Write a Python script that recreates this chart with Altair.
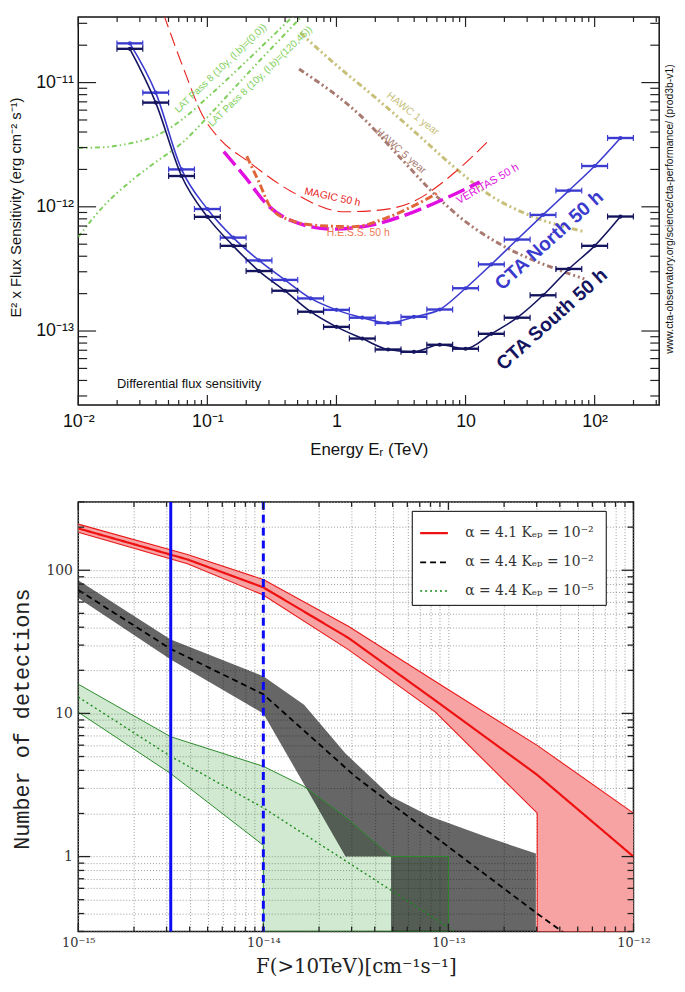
import altair as alt
import pandas as pd

SANS = "Liberation Sans"
SERIF = "DejaVu Serif"
MONO = "Liberation Mono"

# ================= TOP PANEL DATA (E in TeV, E^2 F in erg cm^-2 s^-1) =================
cta_energy = [0.0251, 0.0398, 0.0631, 0.1, 0.1585, 0.2512, 0.3981, 0.631, 1.0, 1.585,
              2.512, 3.981, 6.31, 10.0, 15.85, 25.12, 39.81, 63.1, 100.0, 158.5]
cta_north = [2.07e-11, 8.3e-12, 2.0e-12, 9.6e-13, 5.65e-13, 3.7e-13, 2.58e-13, 1.83e-13,
             1.48e-13, 1.28e-13, 1.16e-13, 1.30e-13, 1.49e-13, 2.21e-13, 3.44e-13, 5.45e-13,
             8.6e-13, 1.35e-12, 2.13e-12, 3.58e-12]
cta_south = [1.87e-11, 6.9e-12, 1.77e-12, 8.3e-13, 4.85e-13, 3.04e-13, 2.11e-13, 1.43e-13,
             1.08e-13, 8.7e-14, 7.1e-14, 6.8e-14, 7.75e-14, 7.2e-14, 9.5e-14, 1.28e-13,
             1.94e-13, 3.16e-13, 4.85e-13, 8.35e-13]
bin_factor = 1.2589  # energy bins are 0.2 decade wide

lat00_e = [0.01, 0.0158, 0.0251, 0.0398, 0.0631, 0.1, 0.158, 0.251, 0.398, 0.48]
lat00_f = [2.98e-12, 3.02e-12, 3.24e-12, 3.72e-12, 5.01e-12, 7.59e-12, 1.175e-11, 1.86e-11, 2.95e-11, 3.56e-11]
lat12045_e = [0.01, 0.0158, 0.0251, 0.0398, 0.0631, 0.1, 0.158, 0.251, 0.398, 0.56]
lat12045_f = [5.71e-13, 1.02e-12, 1.585e-12, 2.29e-12, 3.24e-12, 5.25e-12, 8.81e-12, 1.48e-11, 2.45e-11, 3.56e-11]
magic_e = [0.0458, 0.0684, 0.0912, 0.1225, 0.208, 0.4436, 1.151, 1.995, 3.89, 8.32, 15.49]
magic_f = [3.56e-11, 1.148e-11, 5.50e-12, 3.59e-12, 2.31e-12, 1.334e-12, 9.12e-13, 9.33e-13, 1.096e-12, 1.905e-12, 3.51e-12]
veritas_e = [0.134, 0.1995, 0.282, 0.468, 0.933, 1.995, 3.98, 7.24, 12.88]
veritas_f = [2.78e-12, 1.70e-12, 1.072e-12, 7.59e-13, 6.61e-13, 7.24e-13, 9.12e-13, 1.189e-12, 1.585e-12]
hess_e = [0.2018, 0.2483, 0.3162, 0.4467, 0.7079, 1.349, 2.570, 4.169, 6.310]
hess_f = [2.553e-12, 1.622e-12, 9.55e-13, 7.76e-13, 7.08e-13, 6.92e-13, 8.32e-13, 1.047e-12, 1.318e-12]
hawc1_e = [0.525, 1.0, 1.995, 3.98, 7.94, 15.85, 31.6, 83.2]
hawc1_f = [2.51e-11, 1.38e-11, 7.6e-12, 4.07e-12, 2.14e-12, 1.22e-12, 8.51e-13, 6.31e-13]
hawc5_e = [0.513, 1.585, 3.16, 6.31, 10.0, 19.95, 50.1, 83.2]
hawc5_f = [1.288e-11, 5.25e-12, 2.45e-12, 1.15e-12, 7.59e-13, 4.79e-13, 3.16e-13, 2.63e-13]

# annotation table: text, E, F, angle, colour, size, weight
top_labels = [
    ("LAT Pass 8 (10y, (l,b)=(0,0))", 0.1268, 1.30e-11, 316, "#7fcf5c", 10, "normal"),
    ("LAT Pass 8 (10y, (l,b)=(120,45))", 0.257, 1.122e-11, 316, "#7fcf5c", 10, "normal"),
    ("MAGIC 50 h", 0.931, 1.194e-12, 12, "#e8201c", 10.5, "normal"),
    ("VERITAS 50 h", 14.86, 1.52e-12, 330, "#e010e0", 11, "normal"),
    ("H.E.S.S. 50 h", 1.476, 6.17e-13, 0, "#f07a55", 10.5, "normal"),
    ("HAWC 1 year", 3.9, 5.6e-12, 38, "#c8c07a", 10.5, "normal"),
    ("HAWC 5 year", 3.15, 2.8e-12, 41, "#a87a70", 10.5, "normal"),
    ("CTA North 50 h", 44.5, 5.37e-13, 318, "#3a3acc", 19.5, "bold"),
    ("CTA South 50 h", 46.8, 1.24e-13, 318, "#14145f", 19.5, "bold"),
]
note_text = "Differential flux sensitivity"
note_pos = (0.01995, 3.73e-14)
url_text = "www.cta-observatory.org/science/cta-performance/ (prod3b-v1)"

# ================= BOTTOM PANEL DATA (F(>10 TeV), number of detections) =================
N_FLOOR = 0.3  # "zero" detections (below the axis)
S_RED = "α = 4.1  Kₑₚ = 10⁻²"
S_BLK = "α = 4.4  Kₑₚ = 10⁻²"
S_GRN = "α = 4.4  Kₑₚ = 10⁻⁵"

red_flux = [1e-15, 3.89e-15, 1e-14, 2.88e-14, 8.51e-14, 3.02e-13, 3.02e-13, 1e-12]
red_hi = [210, 129, 86.1, 40.6, 16.7, 5.98, 5.98, 2.01]
red_lo = [184, 111, 67.1, 27.9, 10.2, 2.01, N_FLOOR, N_FLOOR]
red_mid_flux = [1e-15, 3.89e-15, 1e-14, 2.88e-14, 8.51e-14, 3.02e-13, 1e-12]
red_mid = [196, 119, 75.9, 33.7, 12.3, 3.72, 1.0]

blk_flux = [1e-15, 3.16e-15, 1e-14, 1.66e-14, 2.78e-14, 4.9e-14, 4.9e-14, 7.94e-14, 1.585e-13, 2.97e-13, 2.97e-13]
blk_hi = [85.1, 32.8, 18.2, 11.5, 5.25, 2.63, 2.63, 1.91, 1.38, 1.05, N_FLOOR]
blk_lo = [64.0, 23.8, 10.0, 3.2, 1.0, 1.0, N_FLOOR, N_FLOOR, N_FLOOR, N_FLOOR, N_FLOOR]
blk_mid_flux = [1e-15, 3.16e-15, 1e-14, 3.16e-14, 1e-13, 3.02e-13, 5e-13]
blk_mid = [72.8, 28.2, 13.6, 3.6, 1.17, 0.40, 0.25]

grn_flux = [1e-15, 3.16e-15, 1e-14, 1e-14, 1.66e-14, 2.82e-14, 4.9e-14, 1e-13, 1e-13]
grn_hi = [16.0, 6.87, 4.27, 4.27, 3.09, 1.86, 1.0, 1.0, N_FLOOR]
grn_lo = [10.2, 3.80, 1.20, N_FLOOR, N_FLOOR, N_FLOOR, N_FLOOR, N_FLOOR, N_FLOOR]
grn_mid_flux = [1e-15, 3.16e-15, 1e-14, 3.16e-14, 1e-13, 1.3e-13]
grn_mid = [13.0, 5.01, 2.19, 0.84, 0.32, 0.25]

blue_solid_flux = [3.16e-15]
blue_dashed_flux = [1e-14]

# ================= LAYOUT =================
TW, TH = 587, 392
BW, BH = 561, 434
LEFT = 70     # room for the y axes
GAP = 98      # distance between the two plot areas


def lab_expr(pairs):
    s = ""
    for v, t in pairs:
        s += f"abs(datum.value / {v!r} - 1) < 0.01 ? '{t}' : "
    return s + "''"


def log_ticks(lo_exp, hi_exp, vmin, vmax):
    major, minor = [], []
    for d in range(lo_exp, hi_exp + 1):
        for k in range(1, 10):
            v = float(f"{k}e{d}")
            if vmin * 0.999 <= v <= vmax * 1.001:
                (major if k == 1 else minor).append(v)
    return major, minor


def bound_marker(top_pad):
    # a white dot that fixes the outer corner of the layout
    return alt.Chart(pd.DataFrame({"k": [0]})).mark_rule(color="white", strokeWidth=1).encode(
        x=alt.value(-LEFT + 0.5), x2=alt.value(-LEFT + 0.5),
        y=alt.value(-top_pad + 0.5), y2=alt.value(-top_pad + 1))


# ---------------- top chart ----------------
TY_MIN, TY_MAX = 2.54e-14, 3.373e-11
xs_t = alt.Scale(type="log", domain=[0.01, 316.2], nice=False)
ys_t = alt.Scale(type="log", domain=[TY_MIN, TY_MAX], nice=False)

ax_xt = alt.Axis(title="Energy Eᵣ (TeV)", values=[0.01, 0.1, 1, 10, 100],
                 labelExpr=lab_expr([(0.01, "10⁻²"), (0.1, "10⁻¹"), (1, "1"), (10, "10"), (100, "10²")]),
                 labelFlush=False, labelOverlap=False, ticks=False, tickSize=0, domain=False, grid=False,
                 labelFont=SANS, labelFontSize=18, labelPadding=8, labelColor="#111",
                 titleFont=SANS, titleFontSize=17, titleFontWeight="normal", titlePadding=11, titleColor="#111")
ax_yt = alt.Axis(title="E² x Flux Sensitivity (erg cm⁻² s⁻¹)", values=[1e-13, 1e-12, 1e-11],
                 labelExpr=lab_expr([(1e-13, "10⁻¹³"), (1e-12, "10⁻¹²"), (1e-11, "10⁻¹¹")]),
                 labelOverlap=False, ticks=False, tickSize=0, domain=False, grid=False,
                 labelFont=SANS, labelFontSize=18, labelPadding=5, labelColor="#111",
                 titleFont=SANS, titleFontSize=15, titleFontWeight="normal", titleColor="#111",
                 titleX=-55, titleY=192)


def TX(f):
    return alt.X(f, type="quantitative", scale=xs_t, axis=ax_xt)


def TY(f):
    return alt.Y(f, type="quantitative", scale=ys_t, axis=ax_yt)


def curve(e, f, color, dash, width):
    df = pd.DataFrame({"E": e, "F": f})
    return alt.Chart(df).mark_line(clip=True, color=color, strokeDash=dash, strokeWidth=width,
                                   interpolate="monotone").encode(x=TX("E"), y=TY("F"))


top_layers = [
    bound_marker(3),
    curve(lat00_e, lat00_f, "#7fcf5c", [5, 3, 1.5, 3, 1.5, 3], 2),
    curve(lat12045_e, lat12045_f, "#7fcf5c", [5, 3, 1.5, 3, 1.5, 3], 2),
    curve(hawc1_e, hawc1_f, "#c8c07a", [6, 3, 2, 3, 2, 3], 3),
    curve(hawc5_e, hawc5_f, "#a87a70", [6, 3, 2, 3, 2, 3], 3),
    curve(magic_e, magic_f, "#e8201c", [14, 6], 1.1),
    curve(veritas_e, veritas_f, "#e010e0", [18, 6], 3.5),
    curve(hess_e, hess_f, "#e0663a", [8, 3, 2, 3], 3),
]

for flux, color in [(cta_north, "#3b3bd0"), (cta_south, "#14145f")]:
    df = pd.DataFrame({"E": cta_energy, "F": flux,
                       "lo": [e / bin_factor for e in cta_energy],
                       "hi": [e * bin_factor for e in cta_energy]})
    base = alt.Chart(df)
    top_layers.append(base.mark_line(color=color, strokeWidth=1.6, interpolate="monotone")
                      .encode(x=TX("E"), y=TY("F")))
    top_layers.append(base.mark_rule(color=color, strokeWidth=2.4)
                      .encode(x=TX("lo"), x2="hi", y=TY("F")))
    for edge in ["lo", "hi"]:
        top_layers.append(base.mark_rule(color=color, strokeWidth=1.2, yOffset=-3, y2Offset=3)
                          .encode(x=TX(edge), y=TY("F"), y2="F"))
    top_layers.append(base.mark_circle(color=color, size=18, opacity=1)
                      .encode(x=TX("E"), y=TY("F")))

for txt, e, f, ang, col, fs, fw in top_labels:
    df = pd.DataFrame({"E": [e], "F": [f], "t": [txt]})
    top_layers.append(alt.Chart(df).mark_text(angle=ang, color=col, fontSize=fs, fontWeight=fw, font=SANS,
                                              align="center", baseline="middle")
                      .encode(x=TX("E"), y=TY("F"), text="t:N"))

df_note = pd.DataFrame({"E": [note_pos[0]], "F": [note_pos[1]], "t": [note_text]})
top_layers.append(alt.Chart(df_note).mark_text(color="#111", fontSize=13, font=SANS, align="left",
                                               baseline="middle")
                  .encode(x=TX("E"), y=TY("F"), text="t:N"))

df_url = pd.DataFrame({"t": [url_text]})
top_layers.append(alt.Chart(df_url).mark_text(angle=270, color="#111", fontSize=10.5, font=SANS,
                                              align="center", baseline="middle")
                  .encode(x=alt.value(TW + 11), y=alt.value(194), text="t:N"))

# inward ticks (top)
txmaj, txmin = log_ticks(-2, 2, 0.01, 316.2)
tymaj, tymin = log_ticks(-14, -11, TY_MIN, TY_MAX)
for vals, L in [(txmaj, 10), (txmin, 5)]:
    b = alt.Chart(pd.DataFrame({"v": vals})).mark_rule(color="#222", strokeWidth=1.2)
    top_layers.append(b.encode(x=TX("v"), y=alt.value(TH), y2=alt.value(TH - L)))
    top_layers.append(b.encode(x=TX("v"), y=alt.value(0), y2=alt.value(L)))
for vals, L in [(tymaj, 18), (tymin, 9)]:
    b = alt.Chart(pd.DataFrame({"v": vals})).mark_rule(color="#222", strokeWidth=1.2)
    top_layers.append(b.encode(y=TY("v"), x=alt.value(0), x2=alt.value(L)))
    top_layers.append(b.encode(y=TY("v"), x=alt.value(TW), x2=alt.value(TW - L)))

top = alt.layer(*top_layers).properties(width=TW, height=TH)

# ---------------- bottom chart ----------------
xs_b = alt.Scale(type="log", domain=[1e-15, 1e-12], nice=False)
ys_b = alt.Scale(type="log", domain=[0.3, 300], nice=False)
bxmaj, bxmin = log_ticks(-15, -12, 1e-15, 1e-12)
bymaj, bymin = log_ticks(-1, 2, 0.3, 300)

ax_xb = alt.Axis(title="F(>10TeV)[cm⁻¹s⁻¹]", values=sorted(bxmaj + bxmin),
                 labelExpr=lab_expr([(1e-15, "10⁻¹⁵"), (1e-14, "10⁻¹⁴"), (1e-13, "10⁻¹³"), (1e-12, "10⁻¹²")]),
                 labelFlush=False, labelOverlap=False, ticks=False, tickSize=0, domain=False,
                 grid=True, gridDash=[1, 2], gridColor="#999999", gridWidth=1,
                 labelFont=SERIF, labelFontSize=13, labelPadding=5, labelColor="#333",
                 titleFont=SERIF, titleFontSize=20, titleFontWeight="normal", titlePadding=8, titleColor="#222")
ax_yb = alt.Axis(title="Number of detections", values=sorted(bymaj + bymin),
                 labelExpr=lab_expr([(1, "1"), (10, "10"), (100, "100")]),
                 labelOverlap=False, ticks=False, tickSize=0, domain=False,
                 grid=True, gridDash=[1, 2], gridColor="#999999", gridWidth=1,
                 labelFont=SERIF, labelFontSize=14, labelPadding=6, labelColor="#333",
                 titleFont=MONO, titleFontSize=22, titleFontWeight="normal", titleColor="#222",
                 titleX=-45, titleY=219)


def BX(f):
    return alt.X(f, type="quantitative", scale=xs_b, axis=ax_xb)


def BY(f):
    return alt.Y(f, type="quantitative", scale=ys_b, axis=ax_yb)


def band_df(flux, hi, lo):
    return pd.DataFrame({"F": flux, "hi": hi, "lo": lo, "i": list(range(len(flux)))})


bot_layers = [bound_marker(0)]
for flux, hi, lo, fill, op in [(red_flux, red_hi, red_lo, "#f8a3a3", 1.0),
                               (grn_flux, grn_hi, grn_lo, "#2e9a2e", 0.22),
                               (blk_flux, blk_hi, blk_lo, "#000000", 0.6)]:
    bot_layers.append(alt.Chart(band_df(flux, hi, lo)).mark_area(clip=True, color=fill, opacity=op)
                      .encode(x=BX("F"), y=BY("hi"), y2="lo"))

for flux, hi, lo, col, w in [(red_flux, red_hi, red_lo, "#e81818", 1.1),
                             (grn_flux, grn_hi, grn_lo, "#2a8a2a", 1.0)]:
    d = band_df(flux, hi, lo)
    for fld in ["hi", "lo"]:
        bot_layers.append(alt.Chart(d).mark_line(clip=True, color=col, strokeWidth=w)
                          .encode(x=BX("F"), y=BY(fld), order="i:Q"))

mid_rows = []
for name, fl, nv in [(S_RED, red_mid_flux, red_mid), (S_BLK, blk_mid_flux, blk_mid), (S_GRN, grn_mid_flux, grn_mid)]:
    for i, (f, n) in enumerate(zip(fl, nv)):
        mid_rows.append({"series": name, "F": f, "N": n, "i": i})
mid_df = pd.DataFrame(mid_rows)
names = [S_RED, S_BLK, S_GRN]
leg = alt.Legend(title=None, orient="none", legendX=337, legendY=9, fillColor="white", strokeColor="black",
                 padding=7, rowPadding=7, symbolType="stroke", symbolSize=784, symbolStrokeWidth=2.2,
                 labelFont=SERIF, labelFontSize=14, labelColor="#333", labelOffset=16, labelLimit=400)
bot_layers.append(alt.Chart(mid_df).mark_line(clip=True).encode(
    x=BX("F"), y=BY("N"), order="i:Q",
    color=alt.Color("series:N", scale=alt.Scale(domain=names, range=["#ee1111", "#000000", "#1a8a1a"]), legend=leg),
    strokeDash=alt.StrokeDash("series:N", scale=alt.Scale(domain=names, range=[[1, 0], [6, 4], [2, 3]]), legend=leg),
    strokeWidth=alt.StrokeWidth("series:N", scale=alt.Scale(domain=names, range=[2.2, 1.4, 1.4]), legend=None),
))

bot_layers.append(alt.Chart(pd.DataFrame({"F": blue_solid_flux})).mark_rule(color="#0b0bf5", strokeWidth=3)
                  .encode(x=BX("F")))
bot_layers.append(alt.Chart(pd.DataFrame({"F": blue_dashed_flux})).mark_rule(color="#0b0bf5", strokeWidth=3,
                                                                            strokeDash=[8, 5])
                  .encode(x=BX("F")))

for vals, L in [(bxmaj, 8), (bxmin, 5)]:
    b = alt.Chart(pd.DataFrame({"v": vals})).mark_rule(color="#222", strokeWidth=1.3)
    bot_layers.append(b.encode(x=BX("v"), y=alt.value(BH), y2=alt.value(BH - L)))
    bot_layers.append(b.encode(x=BX("v"), y=alt.value(0), y2=alt.value(L)))
for vals, L in [(bymaj, 12), (bymin, 6)]:
    b = alt.Chart(pd.DataFrame({"v": vals})).mark_rule(color="#222", strokeWidth=1.3)
    bot_layers.append(b.encode(y=BY("v"), x=alt.value(0), x2=alt.value(L)))
    bot_layers.append(b.encode(y=BY("v"), x=alt.value(BW), x2=alt.value(BW - L)))

bottom = alt.layer(*bot_layers).properties(width=BW, height=BH)

chart = (alt.vconcat(top, bottom, spacing=GAP, bounds="flush")
         .resolve_scale(x="independent", y="independent", color="independent", strokeDash="independent",
                        strokeWidth="independent")
         .configure_view(stroke="#111", strokeWidth=1.5)
         .properties(padding=0, background="white"))

chart.save("out.html", embed_options={"renderer": "svg", "actions": False})
